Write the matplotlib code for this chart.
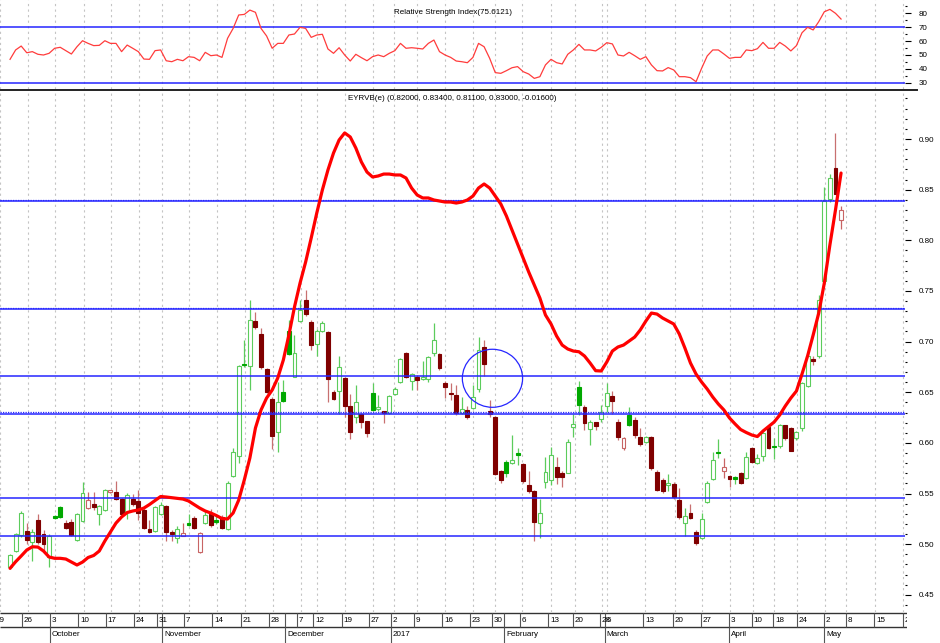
import numpy as np
import matplotlib
matplotlib.use("Agg")
import matplotlib.pyplot as plt
from matplotlib import font_manager
from matplotlib.patches import Ellipse
from matplotlib.lines import Line2D
from matplotlib.ticker import MultipleLocator

# daily bars, EYRVB(e)
opens = [0.478, 0.493, 0.509, 0.513, 0.502, 0.524, 0.510, 0.487, 0.528, 0.537,
         0.521, 0.522, 0.504, 0.523, 0.5355, 0.540, 0.530, 0.534, 0.552, 0.552,
         0.545, 0.532, 0.545, 0.543, 0.534, 0.5147, 0.513, 0.530, 0.538, 0.512,
         0.506, 0.5085, 0.5206, 0.5256, 0.4926, 0.521, 0.530, 0.524, 0.527, 0.515,
         0.567, 0.5875, 0.678, 0.676, 0.7205, 0.708, 0.6727, 0.643, 0.6105, 0.6505,
         0.7108, 0.6654, 0.7206, 0.741, 0.7196, 0.6975, 0.710, 0.709, 0.6505, 0.651,
         0.6638, 0.6364, 0.6253, 0.6285, 0.6216, 0.649, 0.633, 0.6315, 0.6295, 0.648,
         0.6604, 0.689, 0.6614, 0.6654, 0.6628, 0.6628, 0.6885, 0.6878, 0.6594, 0.6495,
         0.6473, 0.630, 0.6325, 0.6342, 0.6529, 0.695, 0.6315, 0.6253, 0.5719, 0.5807,
         0.5798, 0.5903, 0.5792, 0.5584, 0.5528, 0.5212, 0.5617, 0.5634, 0.5759, 0.5706,
         0.5706, 0.616, 0.6555, 0.6357, 0.6134, 0.6203, 0.6233, 0.6364, 0.6467, 0.621,
         0.5947, 0.628, 0.6226, 0.6055, 0.6005, 0.6061, 0.5716, 0.5634, 0.5584, 0.5594,
         0.5436, 0.5206, 0.5305, 0.5124, 0.5058, 0.5419, 0.5641, 0.5905, 0.5725, 0.5673,
         0.5655, 0.5706, 0.565, 0.5947, 0.5805, 0.5871, 0.616, 0.5969, 0.5969, 0.6177,
         0.6145, 0.6046, 0.6145, 0.656, 0.6825, 0.6858, 0.7598, 0.8405, 0.8717, 0.820]
highs = [0.490, 0.511, 0.533, 0.521, 0.515, 0.530, 0.514, 0.510, 0.529, 0.538,
         0.524, 0.525, 0.531, 0.561, 0.552, 0.552, 0.539, 0.555, 0.553, 0.562,
         0.546, 0.551, 0.5495, 0.5535, 0.536, 0.524, 0.538, 0.542, 0.539, 0.514,
         0.518, 0.5206, 0.5295, 0.528, 0.512, 0.534, 0.5345, 0.529, 0.529, 0.562,
         0.595, 0.677, 0.7016, 0.741, 0.7295, 0.713, 0.674, 0.645, 0.6604, 0.662,
         0.7213, 0.7065, 0.741, 0.751, 0.721, 0.712, 0.720, 0.710, 0.652, 0.6858,
         0.665, 0.648, 0.6572, 0.630, 0.622, 0.6594, 0.6473, 0.632, 0.647, 0.655,
         0.684, 0.690, 0.669, 0.667, 0.6812, 0.686, 0.718, 0.689, 0.661, 0.659,
         0.6572, 0.6456, 0.636, 0.6572, 0.7048, 0.7016, 0.6424, 0.627, 0.573, 0.583,
         0.6078, 0.5947, 0.580, 0.5727, 0.5535, 0.5443, 0.5864, 0.5963, 0.5858, 0.572,
         0.604, 0.629, 0.661, 0.637, 0.623, 0.621, 0.6374, 0.6594, 0.651, 0.624,
         0.606, 0.6357, 0.626, 0.6145, 0.607, 0.607, 0.573, 0.565, 0.5693, 0.561,
         0.5553, 0.5355, 0.540, 0.514, 0.5305, 0.562, 0.5913, 0.6036, 0.5848, 0.568,
         0.567, 0.5712, 0.5913, 0.596, 0.589, 0.611, 0.618, 0.6046, 0.619, 0.618,
         0.616, 0.612, 0.660, 0.689, 0.686, 0.746, 0.8529, 0.8654, 0.906, 0.834]
lows = [0.476, 0.492, 0.507, 0.500, 0.483, 0.500, 0.493, 0.478, 0.525, 0.526,
        0.515, 0.508, 0.503, 0.522, 0.535, 0.534, 0.519, 0.533, 0.551, 0.544,
        0.529, 0.525, 0.538, 0.524, 0.515, 0.511, 0.512, 0.529, 0.503, 0.503,
        0.501, 0.508, 0.518, 0.515, 0.491, 0.520, 0.517, 0.520, 0.515, 0.514,
        0.566, 0.580, 0.675, 0.652, 0.712, 0.673, 0.649, 0.594, 0.5913, 0.640,
        0.687, 0.665, 0.719, 0.725, 0.6917, 0.6858, 0.709, 0.6407, 0.642, 0.629,
        0.626, 0.6036, 0.620, 0.615, 0.606, 0.632, 0.632, 0.6193, 0.629, 0.647,
        0.659, 0.664, 0.652, 0.6522, 0.662, 0.660, 0.686, 0.672, 0.644, 0.642,
        0.628, 0.629, 0.624, 0.633, 0.650, 0.666, 0.626, 0.568, 0.560, 0.566,
        0.579, 0.5782, 0.560, 0.551, 0.5035, 0.5058, 0.5553, 0.558, 0.559, 0.5568,
        0.570, 0.6063, 0.628, 0.613, 0.598, 0.613, 0.621, 0.631, 0.629, 0.603,
        0.593, 0.617, 0.6045, 0.597, 0.600, 0.573, 0.553, 0.551, 0.5528, 0.5445,
        0.525, 0.508, 0.525, 0.4992, 0.505, 0.541, 0.563, 0.5848, 0.565, 0.5568,
        0.5595, 0.559, 0.564, 0.580, 0.579, 0.5825, 0.594, 0.5838, 0.595, 0.603,
        0.592, 0.603, 0.612, 0.655, 0.677, 0.684, 0.758, 0.838, 0.846, 0.811]
closes = [0.489, 0.510, 0.531, 0.504, 0.512, 0.502, 0.500, 0.508, 0.526, 0.527,
          0.516, 0.509, 0.530, 0.551, 0.5436, 0.5365, 0.5377, 0.5535, 0.552, 0.545,
          0.530, 0.5486, 0.540, 0.531, 0.516, 0.5124, 0.537, 0.539, 0.512, 0.510,
          0.515, 0.511, 0.519, 0.5157, 0.511, 0.529, 0.519, 0.5216, 0.5157, 0.5607,
          0.591, 0.676, 0.6765, 0.7213, 0.7147, 0.6747, 0.6505, 0.607, 0.6407, 0.6417,
          0.6878, 0.689, 0.731, 0.7273, 0.6966, 0.710, 0.7187, 0.6632, 0.643, 0.6747,
          0.6364, 0.6111, 0.6407, 0.621, 0.610, 0.6325, 0.6352, 0.6292, 0.6463, 0.653,
          0.6828, 0.6648, 0.668, 0.6621, 0.6654, 0.6852, 0.7016, 0.6737, 0.6555, 0.648,
          0.6292, 0.6333, 0.626, 0.6456, 0.6917, 0.678, 0.6285, 0.5696, 0.5635, 0.5706,
          0.5831, 0.588, 0.5628, 0.5528, 0.5222, 0.5312, 0.5716, 0.588, 0.5667, 0.566,
          0.6012, 0.6184, 0.6374, 0.6193, 0.621, 0.617, 0.6309, 0.649, 0.6414, 0.6061,
          0.6045, 0.6177, 0.6078, 0.5989, 0.6061, 0.575, 0.554, 0.5528, 0.5607, 0.5469,
          0.5266, 0.5278, 0.5256, 0.5015, 0.5246, 0.5607, 0.5831, 0.590, 0.5759, 0.564,
          0.5648, 0.560, 0.5858, 0.5815, 0.5848, 0.6094, 0.5947, 0.5955, 0.6177, 0.6046,
          0.5924, 0.6105, 0.6588, 0.686, 0.681, 0.741, 0.8388, 0.8612, 0.846, 0.830]

# red overlay line
ma_line = [0.4762, 0.4827, 0.4884, 0.4943, 0.4975, 0.4972, 0.4933, 0.4874, 0.4861, 0.4861,
           0.4854, 0.4824, 0.4795, 0.4824, 0.4869, 0.4889, 0.4933, 0.5032, 0.512, 0.5209,
           0.5269, 0.5313, 0.5328, 0.5338, 0.5357, 0.5392, 0.5431, 0.5471, 0.5466, 0.5459,
           0.5451, 0.5446, 0.5427, 0.5392, 0.5357, 0.5328, 0.5308, 0.5283, 0.5254, 0.5249,
           0.5308, 0.5436, 0.5634, 0.5851, 0.6147, 0.6325, 0.6443, 0.6522, 0.6641, 0.6818,
           0.7065, 0.7342, 0.7578, 0.7786, 0.8023, 0.827, 0.8497, 0.8694, 0.8862, 0.899,
           0.906, 0.902, 0.8911, 0.8773, 0.8674, 0.8625, 0.8635, 0.8654, 0.8654, 0.8645,
           0.8645, 0.8615, 0.8516, 0.8447, 0.8418, 0.8418, 0.8398, 0.8388, 0.8378, 0.8378,
           0.8368, 0.8378, 0.8398, 0.8437, 0.8516, 0.8556, 0.8516, 0.8437, 0.8358, 0.824,
           0.8102, 0.7963, 0.7825, 0.7687, 0.7559, 0.743, 0.7263, 0.7174, 0.7055, 0.6966,
           0.6927, 0.6907, 0.690, 0.6858, 0.6789, 0.6713, 0.671, 0.6799, 0.6907, 0.6947,
           0.6966, 0.7006, 0.7045, 0.7115, 0.7203, 0.7282, 0.7272, 0.7233, 0.7203, 0.7174,
           0.7075, 0.6937, 0.6789, 0.668, 0.6601, 0.6532, 0.6453, 0.6384, 0.6325, 0.6246,
           0.6187, 0.6132, 0.6103, 0.6078, 0.6063, 0.6117, 0.6162, 0.6206, 0.6275, 0.6364,
           0.6443, 0.6512, 0.668, 0.6858, 0.7065, 0.7282, 0.7578, 0.7954, 0.8299, 0.8664]

rsi = [46.9, 53.6, 56.4, 51.6, 52.4, 50.5, 50.0, 51.2, 54.8, 55.5,
       53.1, 50.7, 55.9, 60.2, 58.3, 56.7, 56.9, 60.2, 58.3, 58.3,
       52.4, 57.1, 54.8, 52.4, 47.1, 46.9, 53.1, 53.6, 45.9, 45.2,
       46.9, 45.9, 48.8, 48.3, 45.9, 51.9, 49.5, 50.0, 48.3, 61.9,
       69.0, 78.6, 79.0, 82.1, 80.5, 69.0, 63.6, 54.8, 58.3, 58.3,
       64.3, 65.0, 69.8, 69.0, 62.6, 64.3, 64.8, 54.3, 51.2, 55.2,
       50.0, 45.7, 50.5, 48.1, 45.9, 48.8, 50.0, 48.8, 51.2, 53.1,
       58.3, 54.8, 55.2, 54.8, 54.3, 58.3, 60.7, 52.4, 50.0, 48.3,
       45.7, 45.2, 44.5, 48.3, 58.3, 55.9, 47.6, 37.4, 36.9, 38.8,
       40.9, 41.7, 38.1, 36.4, 33.3, 34.5, 42.9, 46.9, 44.5, 43.6,
       50.5, 53.6, 57.6, 53.6, 53.6, 52.9, 55.5, 58.8, 57.9, 50.0,
       49.3, 51.9, 49.5, 46.9, 48.8, 42.9, 38.8, 38.6, 41.0, 39.3,
       34.5, 34.5, 33.8, 30.9, 40.5, 49.3, 53.6, 53.6, 50.7, 47.6,
       48.3, 48.3, 53.6, 53.1, 54.5, 59.0, 54.8, 54.8, 59.0, 56.4,
       52.9, 56.7, 65.9, 69.8, 67.9, 73.8, 80.9, 82.6, 79.8, 75.7]

levels = [0.8385, 0.732, 0.666, 0.629, 0.5456, 0.508]
dotted_levels = [0.8385, 0.732, 0.629]
rsi_levels = [70, 30]

day_labels = ["19", "26", "3", "10", "17", "24", "31", "7", "14", "21", "28", "7", "12",
              "19", "27", "2", "9", "16", "23", "30", "6", "13", "20", "28", "6", "13",
              "20", "27", "3", "10", "18", "24", "2", "8", "15", "22"]
day_pos = [-1.8, 3.21, 8.14, 13.18, 18.12, 23.16, 27.26, 32.07, 37.06, 42.12, 47.10,
           52.09, 55.05, 60.11, 65.03, 68.84, 73.04, 78.03, 82.97, 86.94, 91.88, 96.92,
           101.26, 106.13, 107.02, 113.84, 119.19, 124.07, 129.11, 133.15, 137.0,
           141.17, 146.09, 149.96, 155.0, 160.17]
month_labels = ["October", "November", "December", "2017", "February", "March", "April", "May"]
month_pos = [8.14, 28.15, 50.06, 68.84, 89.08, 107.02, 129.11, 146.09]

title_main = "EYRVB(e) (0.82000, 0.83400, 0.81100, 0.83000, -0.01600)"
title_rsi = "Relative Strength Index(75.6121)"

names = {f.name for f in font_manager.fontManager.ttflist}
if "Liberation Sans Narrow" in names:
    FONT, FS = "Liberation Sans Narrow", 6.6
else:
    FONT, FS = "Liberation Sans", 5.8
plt.rcParams["font.family"] = [FONT, "DejaVu Sans"]

W, H = 940, 643
PX0, STEP = 4.3, 5.613


def box(x0, y0, x1, y1):
    return [x0 / W, 1 - y1 / H, (x1 - x0) / W, (y1 - y0) / H]


def bar_x(px):
    return (px - PX0) / STEP


BLUE = "#2626ff"
GRID = "#c4c4c4"

fig = plt.figure(figsize=(W / 100, H / 100), dpi=100)
ax_rsi = fig.add_axes(box(0, 0, 905, 89))
ax = fig.add_axes(box(0, 92, 905, 612))
ax_band = fig.add_axes(box(0, 612, 907, 643))

idx = np.arange(len(closes))
o = np.array(opens)
c = np.array(closes)
prev = np.concatenate([[o[0]], c[:-1]])

faces, edges, wicks = [], [], []
for oo, cc, pp in zip(o, c, prev):
    hollow = cc >= oo
    green = cc >= pp
    if hollow and green:
        faces.append("white"); edges.append("#5ccc5c"); wicks.append("#5ccc5c")
    elif hollow:
        faces.append("white"); edges.append("#c86464"); wicks.append("#c86464")
    elif green:
        faces.append("#00a800"); edges.append("#00a800"); wicks.append("#5ccc5c")
    else:
        faces.append("#800000"); edges.append("#800000"); wicks.append("#c87070")

# main panel
ax.vlines(idx, lows, highs, colors=wicks, lw=0.9, zorder=2)
body = np.maximum(np.abs(c - o), 0.0012)
ax.bar(idx, body, bottom=np.minimum(o, c), width=0.7, color=faces,
       edgecolor=edges, linewidth=0.8, zorder=3)
for lv in levels:
    ax.axhline(lv, color=BLUE, lw=1.1, zorder=4)
for lv in dotted_levels:
    ax.axhline(lv + 0.0016, color=BLUE, lw=0.9, ls=(0, (1, 1)), zorder=4)
ax.add_patch(Ellipse((86.5, 0.6638), 10.8, 0.0573, fill=False, edgecolor=BLUE,
                     lw=0.9, zorder=4))
ax.plot(idx, ma_line, color="#ff0000", lw=2.3, zorder=5, solid_capstyle="round")

ax.set_xlim(bar_x(0), bar_x(905))
ax.set_ylim(0.4331, 0.9464)
ax.set_xticks(day_pos)
ax.grid(axis="x", color=GRID, ls=(0, (2, 3)), lw=0.8)
ax.tick_params(axis="x", length=0, labelbottom=False)
ax.yaxis.tick_right()
ax.set_yticks(np.arange(0.45, 0.901, 0.05))
ax.yaxis.set_minor_locator(MultipleLocator(0.01))
ax.yaxis.set_major_formatter(matplotlib.ticker.FormatStrFormatter("%.2f"))
ax.tick_params(axis="y", which="major", length=4, width=0.8, pad=6, labelsize=FS)
ax.tick_params(axis="y", which="minor", length=1.5, width=0.8)
for s in ax.spines.values():
    s.set_visible(False)
ax.text(0.5, 1 - 6 / 520, title_main, transform=ax.transAxes, ha="center",
        va="center", fontsize=FS)

# rsi panel
ax_rsi.plot(idx, rsi, color="#ff3c3c", lw=0.9, zorder=3)
for lv in rsi_levels:
    ax_rsi.axhline(lv, color=BLUE, lw=1.1, zorder=2)
ax_rsi.set_xlim(bar_x(0), bar_x(905))
ax_rsi.set_ylim(25.7, 89.3)
ax_rsi.set_xticks(day_pos)
ax_rsi.grid(axis="x", color=GRID, ls=(0, (2, 3)), lw=0.8)
ax_rsi.tick_params(axis="x", length=0, labelbottom=False)
ax_rsi.yaxis.tick_right()
ax_rsi.set_yticks([30, 40, 50, 60, 70, 80])
ax_rsi.yaxis.set_minor_locator(MultipleLocator(5))
ax_rsi.tick_params(axis="y", which="major", length=4, width=0.8, pad=6, labelsize=FS)
ax_rsi.tick_params(axis="y", which="minor", length=1.5, width=0.8)
for s in ax_rsi.spines.values():
    s.set_visible(False)
ax_rsi.text(0.5, 1 - 12 / 89, title_rsi, transform=ax_rsi.transAxes, ha="center",
            va="center", fontsize=FS)

fig.add_artist(Line2D([0, 917 / W], [1 - 90 / H] * 2, color="#222222", lw=1.4))

# date band
ax_band.set_xlim(bar_x(0), bar_x(907))
ax_band.set_ylim(0, 31)
ax_band.axis("off")
ax_band.hlines([30.3, 15.7], bar_x(0), bar_x(907), colors="#333333", lw=1.0)
sep = sorted(set(day_pos) | set(month_pos))
ax_band.vlines(sep, 15.7, 30.3, colors="#555555", lw=0.8)
ax_band.vlines(month_pos, 0, 15.7, colors="#555555", lw=0.8)
for lbl, pos in zip(day_labels, day_pos):
    t = ax_band.annotate(lbl, (pos, 23), xytext=(1.2, 0), textcoords="offset points",
                         ha="left", va="center", fontsize=FS, annotation_clip=False)
    t.set_clip_on(True)
    t.set_clip_path(ax_band.patch)
for lbl, pos in zip(month_labels, month_pos):
    t = ax_band.annotate(lbl, (pos, 8), xytext=(1.2, 0), textcoords="offset points",
                         ha="left", va="center", fontsize=FS, annotation_clip=False)
    t.set_clip_on(True)
    t.set_clip_path(ax_band.patch)

fig.savefig("out.png", dpi=100)
